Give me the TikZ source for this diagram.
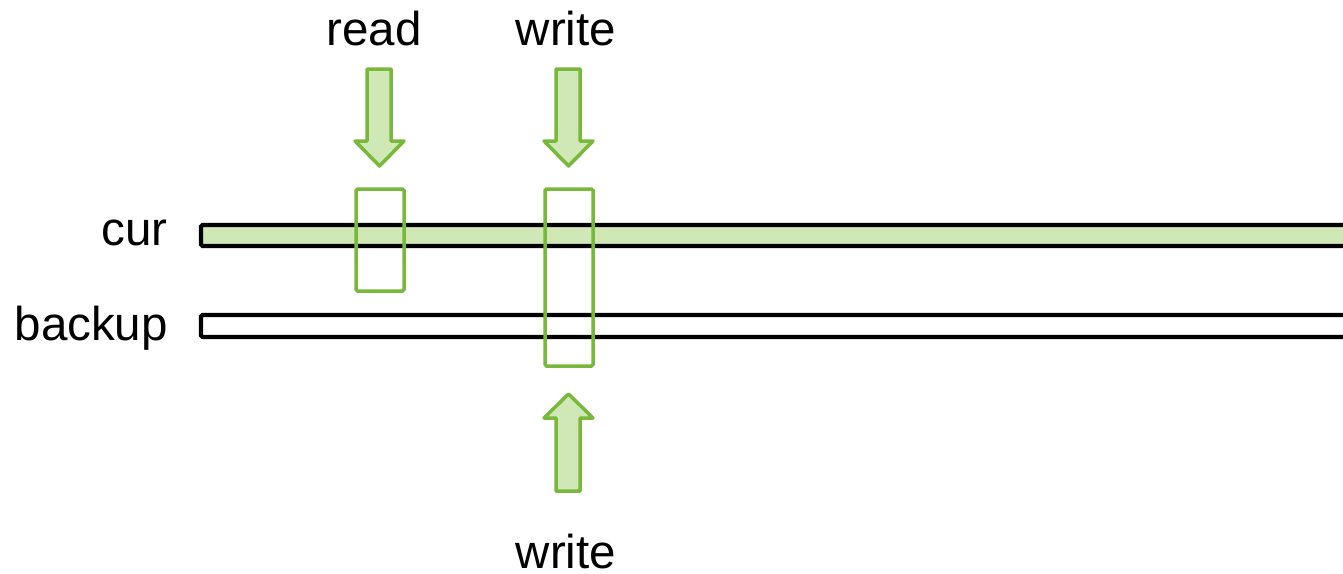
\documentclass[tikz,border=0pt]{standalone}
\usepackage{fontspec}
\setmainfont{Liberation Sans}
\begin{document}
\definecolor{leaf}{HTML}{78B83A}
\definecolor{leaflight}{HTML}{CFE8B5}
\begin{tikzpicture}[x=1pt,y=-1pt,
  lbl/.style={inner sep=0pt,font=\fontsize{47.5}{57}\selectfont},
  bar/.style={draw=black,line width=4.2pt,rounded corners=1.5pt},
  window/.style={draw=leaf,line width=3.5pt,rounded corners=1.5pt},
  fatarrow/.style={draw=leaf,fill=leaflight,line width=3.5pt,line join=round}]
\useasboundingbox (0,0) rectangle (1343,573);
\clip (0,0) rectangle (1343,573);

% storage bars
\draw[bar,fill=leaflight] (201,225) rectangle (1370,246);
\draw[bar,fill=white] (201,315) rectangle (1370,337);
\coordinate (curbar) at (201,235.5);
\coordinate (backupbar) at (201,326);

% row labels
\node[lbl,anchor=base east] (cur) at (168,245) {cur};
\node[lbl,anchor=base east] (backup) at (168,340) {backup};

% access windows
\draw[window] (356,189) rectangle (404,291);
\draw[window] (545,189) rectangle (593,366);

% access arrows
\draw[fatarrow] (367,69) -- (391,69) -- (391,141) -- (404,141) -- (379.5,166)
  -- (355,141) -- (367,141) -- cycle;
\draw[fatarrow] (556,69) -- (580,69) -- (580,141) -- (593,141) -- (568.5,166)
  -- (544,141) -- (556,141) -- cycle;
\draw[fatarrow] (556,491) -- (580,491) -- (580,418) -- (593,418) -- (568.5,394)
  -- (544,418) -- (556,418) -- cycle;

% operation labels
\node[lbl,anchor=base] (read) at (374,45) {read};
\node[lbl,anchor=base] (writetop) at (566,45) {write};
\node[lbl,anchor=base,text depth=0pt] (writebot) at (566,568) {write};
\end{tikzpicture}
\end{document}
